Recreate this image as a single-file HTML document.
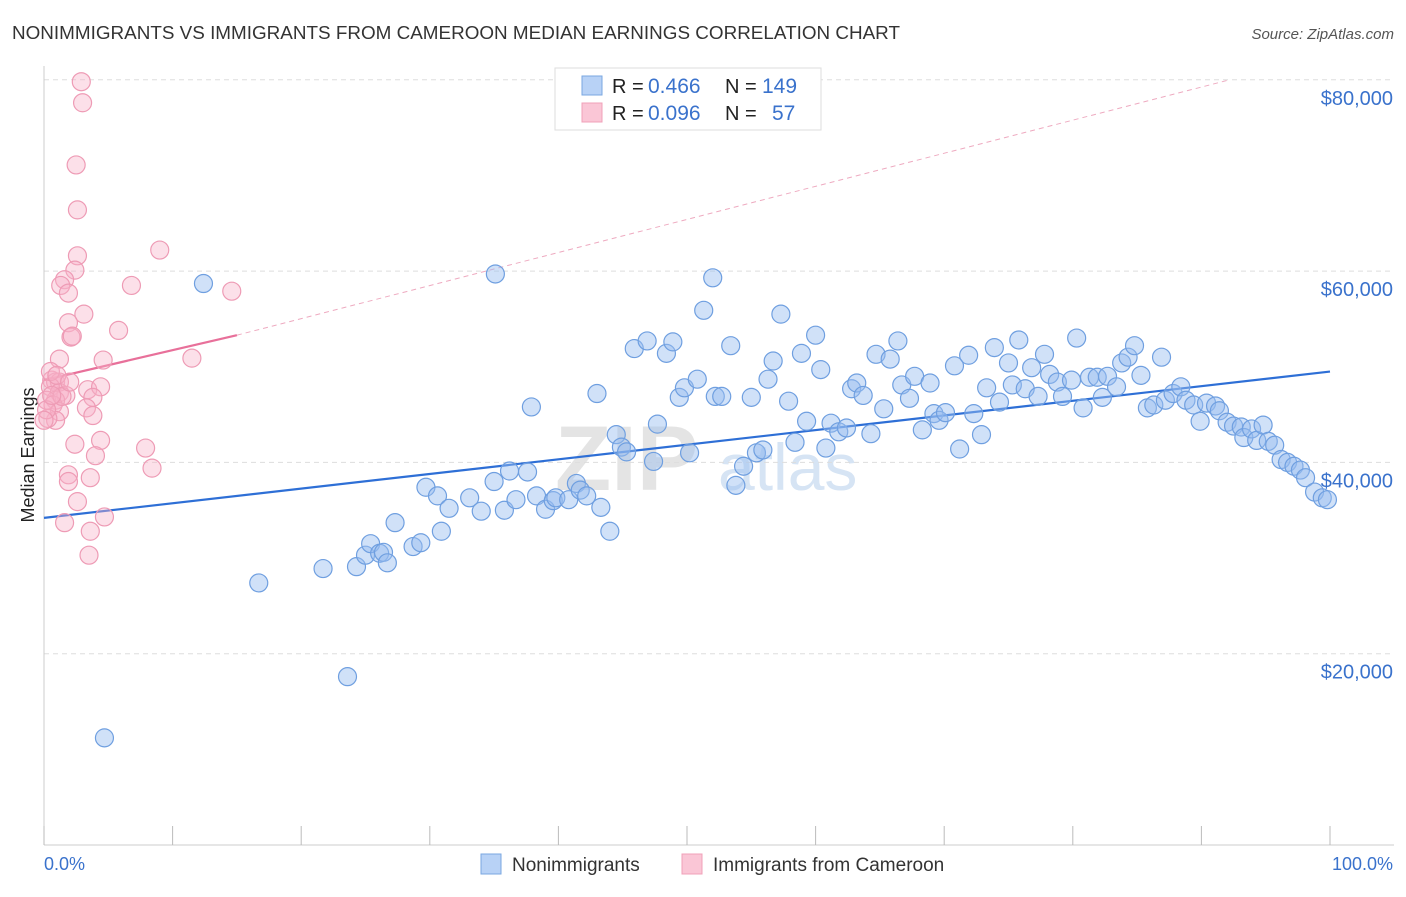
<!DOCTYPE html>
<html><head><meta charset="utf-8"><style>
body{margin:0;background:#fff;font-family:"Liberation Sans",sans-serif;}
svg text{font-family:"Liberation Sans",sans-serif;}
</style></head><body>
<svg id="chart" width="1406" height="892">
<text x="12" y="39" font-size="18" fill="#333" textLength="888" lengthAdjust="spacingAndGlyphs">NONIMMIGRANTS VS IMMIGRANTS FROM CAMEROON MEDIAN EARNINGS CORRELATION CHART</text>
<text x="1394" y="39" font-size="15" fill="#555" font-style="italic" text-anchor="end">Source: ZipAtlas.com</text>
<text x="34" y="455" font-size="18" fill="#222" text-anchor="middle" transform="rotate(-90 34 455)">Median Earnings</text>
<text x="555" y="490" font-size="92" fill="#e4e4e4" font-weight="bold">ZIP</text>
<text x="718" y="490" font-size="66" fill="#d6e4f4">atlas</text>
<g id="grid"></g><g id="axes"></g><g id="trend"></g><g id="pts"></g>
<g>
<rect x="555" y="68" width="266" height="62" fill="#fff" stroke="#ddd"/>
<rect x="582" y="76" width="20" height="19" fill="#b8d2f6" stroke="#7aa7e0"/>
<text x="612" y="93" font-size="20" fill="#222">R =</text>
<text x="648" y="93" font-size="21" fill="#3a72cc">0.466</text>
<text x="725" y="93" font-size="20" fill="#222">N =</text>
<text x="762" y="93" font-size="21" fill="#3a72cc">149</text>
<rect x="582" y="103" width="20" height="19" fill="#fac6d6" stroke="#f0a0b8"/>
<text x="612" y="120" font-size="20" fill="#222">R =</text>
<text x="648" y="120" font-size="21" fill="#3a72cc">0.096</text>
<text x="725" y="120" font-size="20" fill="#222">N =</text>
<text x="772" y="120" font-size="21" fill="#3a72cc">57</text>
</g>
<g>
<rect x="481" y="854" width="20" height="20" fill="#b8d2f6" stroke="#7aa7e0"/>
<text x="512" y="871" font-size="19" fill="#333">Nonimmigrants</text>
<rect x="682" y="854" width="20" height="20" fill="#fac6d6" stroke="#f0a0b8"/>
<text x="713" y="871" font-size="19" fill="#333">Immigrants from Cameroon</text>
</g>
<text x="44" y="870" font-size="18" fill="#3a72cc">0.0%</text>
<text x="1393" y="870" font-size="18" fill="#3a72cc" text-anchor="end">100.0%</text>
</svg>
<script>
const blueX=[4.7,12.4,16.7,21.7,23.6,24.3,25.0,25.4,26.1,26.4,26.7,27.3,28.7,29.3,29.7,30.6,30.9,31.5,33.1,34.0,35.0,35.1,35.8,36.2,36.7,37.6,37.9,38.3,39.0,39.6,39.8,40.8,41.4,41.7,42.2,43.3,43.0,44.0,44.5,44.9,45.3,45.9,46.9,47.4,47.7,48.4,48.9,49.4,49.8,50.2,50.8,51.3,52.0,52.2,52.7,53.4,53.8,54.4,55.0,55.4,55.9,56.3,56.7,57.3,57.9,58.4,58.9,59.3,60.0,60.4,60.8,61.2,61.8,62.4,62.8,63.2,63.7,64.3,64.7,65.3,65.8,66.4,66.7,67.3,67.7,68.3,68.9,69.2,69.6,70.1,70.8,71.2,71.9,72.3,72.9,73.3,73.9,74.3,75.0,75.3,75.8,76.3,76.8,77.3,77.8,78.2,78.8,79.2,79.9,80.3,80.8,81.3,81.9,82.3,82.7,83.4,83.8,84.3,84.8,85.3,85.8,86.3,86.9,87.2,87.8,88.4,88.8,89.4,89.9,90.4,91.1,91.4,92.0,92.5,93.1,93.3,93.9,94.3,94.8,95.2,95.7,96.2,96.7,97.2,97.7,98.1,98.8,99.4,99.8];
const blueY=[11.2,58.7,27.4,28.9,17.6,29.1,30.3,31.5,30.5,30.6,29.5,33.7,31.2,31.6,37.4,36.5,32.8,35.2,36.3,34.9,38.0,59.7,35.0,39.1,36.1,39.0,45.8,36.5,35.1,36.0,36.3,36.1,37.8,37.1,36.5,35.3,47.2,32.8,42.9,41.6,41.1,51.9,52.7,40.1,44.0,51.4,52.6,46.8,47.8,41.0,48.7,55.9,59.3,46.9,46.9,52.2,37.6,39.6,46.8,41.0,41.3,48.7,50.6,55.5,46.4,42.1,51.4,44.3,53.3,49.7,41.5,44.1,43.2,43.6,47.7,48.3,47.0,43.0,51.3,45.6,50.8,52.7,48.1,46.7,49.0,43.4,48.3,45.1,44.4,45.2,50.1,41.4,51.2,45.1,42.9,47.8,52.0,46.3,50.4,48.1,52.8,47.7,49.9,46.9,51.3,49.2,48.4,46.9,48.6,53.0,45.7,48.9,48.9,46.8,49.0,47.9,50.4,51.0,52.2,49.1,45.7,46.0,51.0,46.5,47.2,47.9,46.5,46.0,44.3,46.2,45.9,45.4,44.2,43.8,43.7,42.6,43.5,42.3,43.9,42.2,41.8,40.3,40.0,39.6,39.2,38.4,36.9,36.3,36.1];
const pinkX=[2.9,3.0,2.5,2.6,2.6,2.4,1.6,1.3,1.9,3.1,1.9,2.1,2.2,1.2,0.6,0.9,1.2,0.5,1.2,1.7,0.9,3.4,4.4,3.8,0.2,0.7,1.2,3.3,3.8,0.9,0.3,2.4,4.4,4.0,1.9,1.9,3.6,2.6,1.6,3.6,4.7,3.5,4.6,5.8,6.8,7.9,8.4,9.0,11.5,14.6,0.2,0.5,1.0,0,1.4,2.0,0.6];
const pinkY=[79.8,77.6,71.1,66.4,61.6,60.1,59.1,58.5,57.7,55.5,54.6,53.1,53.2,50.8,48.6,48.4,48.4,47.9,47.3,47.0,46.5,47.6,47.9,46.8,46.5,46.0,45.3,45.7,44.9,44.4,44.6,41.9,42.3,40.7,38.7,38.0,38.4,35.9,33.7,32.8,34.3,30.3,50.7,53.8,58.5,41.5,39.4,62.2,50.9,57.9,45.5,49.5,49.1,44.4,46.9,48.4,47.0];
const blueTrend=[34.2,49.5];
const pinkTrend=[48.6,53.3,15];
const pinkDashEnd=[92.2,80.0];
const yTicks=[20000,40000,60000,80000];
const yLabels=["$20,000","$40,000","$60,000","$80,000"];
const NS="http://www.w3.org/2000/svg";
const X0=44,X1=1330,Y0=845,PXK=9.565;
function sx(p){return X0+(X1-X0)*p/100;}
function sy(k){return Y0-k*PXK;}
function mk(t,a,parent){const e=document.createElementNS(NS,t);for(const k in a)e.setAttribute(k,a[k]);document.getElementById(parent).appendChild(e);return e;}
yTicks.forEach((v,i)=>{
 const g=mk('line',{x1:X0,x2:1394,y1:sy(v/1000),y2:sy(v/1000),stroke:'#ddd','stroke-dasharray':'5,4'},'grid');
 
 
 const t=mk('text',{x:1393,y:sy(v/1000)+25,'font-size':20,fill:'#3a72cc','text-anchor':'end'},'grid');
 t.textContent=yLabels[i];
 
 
});
const ax=mk('line',{x1:X0,x2:X0,y1:66,y2:Y0,stroke:'#ccc'},'axes');


const bx=mk('line',{x1:X0,x2:1394,y1:Y0,y2:Y0,stroke:'#ccc'},'axes');


for(let i=0;i<=10;i++){
 const tk=mk('line',{x1:sx(i*10),x2:sx(i*10),y1:826,y2:Y0,stroke:'#bbb'},'axes');
 
 
}
for(let i=0;i<blueX.length;i++){
 const c=mk('circle',{cx:sx(blueX[i]),cy:sy(blueY[i]),r:9,fill:'rgba(150,188,240,0.45)',stroke:'#6f9fe0','stroke-width':1.2},'pts');
 
 
}
for(let i=0;i<pinkX.length;i++){
 const c=mk('circle',{cx:sx(pinkX[i]),cy:sy(pinkY[i]),r:9,fill:'rgba(248,178,200,0.4)',stroke:'#ee9bb5','stroke-width':1.2},'pts');
 
 
}
const bl=mk('line',{x1:sx(0),y1:sy(blueTrend[0]),x2:sx(100),y2:sy(blueTrend[1]),stroke:'#2e6fd6','stroke-width':2.2},'trend');


const pd=mk('line',{x1:sx(pinkTrend[2]),y1:sy(pinkTrend[1]),x2:sx(pinkDashEnd[0]),y2:sy(pinkDashEnd[1]),stroke:'#eeaac0','stroke-width':1,'stroke-dasharray':'5,4'},'trend');


const pl=mk('line',{x1:sx(0),y1:sy(pinkTrend[0]),x2:sx(pinkTrend[2]),y2:sy(pinkTrend[1]),stroke:'#e8709a','stroke-width':2.2},'trend');


</script>
</body></html>
